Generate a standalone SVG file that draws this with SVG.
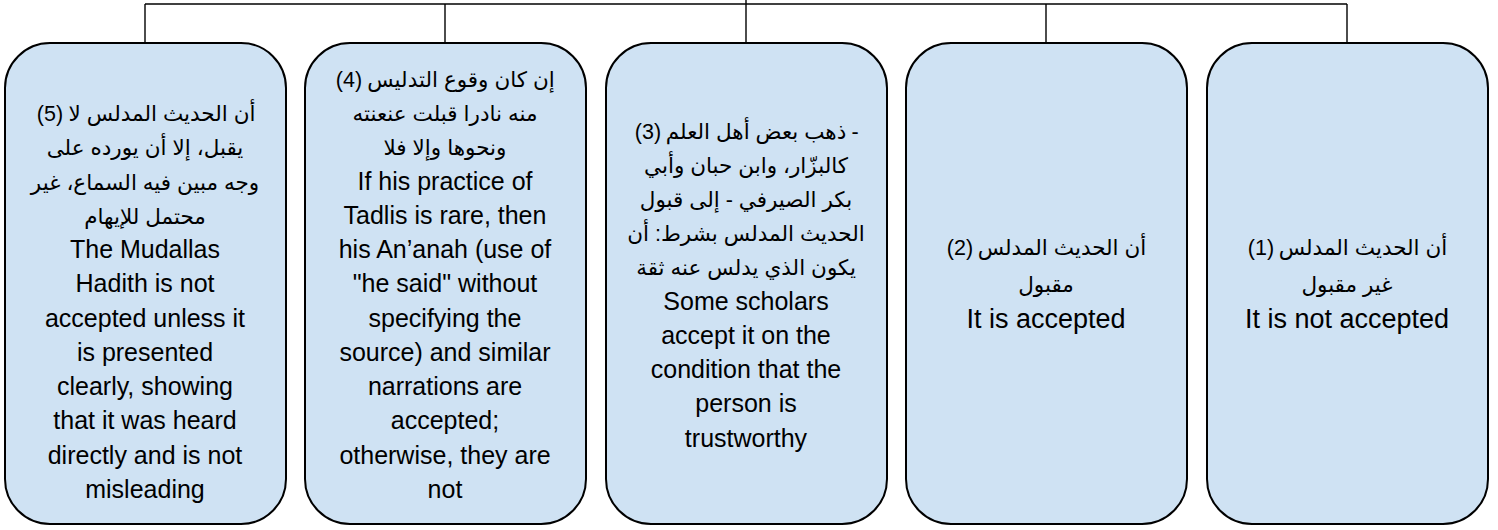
<svg xmlns="http://www.w3.org/2000/svg" width="1498" height="530" viewBox="0 0 1498 530">
<style>
.box{fill:#cfe2f3;stroke:#000;stroke-width:2}
.ln{stroke:#000;stroke-width:1.4;fill:none}
text{font-family:"Liberation Sans","DejaVu Sans",sans-serif;font-size:25px;fill:#000;text-anchor:middle}
text.ar{font-size:21.5px}
text.big{font-size:27px}
</style>
<rect width="1498" height="530" fill="#fff"/>
<g id="connectors">
<line class="ln" x1="746" y1="0" x2="746" y2="43"/>
<line class="ln" x1="145" y1="4" x2="1347" y2="4" stroke-width="2.2"/>
<line class="ln" x1="145" y1="4" x2="145" y2="43"/>
<line class="ln" x1="445" y1="4" x2="445" y2="43"/>
<line class="ln" x1="1046" y1="4" x2="1046" y2="43"/>
<line class="ln" x1="1347" y1="4" x2="1347" y2="43"/>
</g>
<g id="node5">
<rect class="box" x="5" y="43" width="281" height="481" rx="45" ry="45"/>
<text class="ar" x="50" y="121">(5)</text>
<text class="ar" x="162" y="121">أن الحديث المدلس لا</text>
<text class="ar" x="145" y="155">يقبل، إلا أن يورده على</text>
<text class="ar" x="145" y="189.5">وجه مبين فيه السماع، غير</text>
<text class="ar" x="145" y="224">محتمل للإيهام</text>
<text x="145" y="258">The Mudallas</text>
<text x="145" y="292">Hadith is not</text>
<text x="145" y="326.5">accepted unless it</text>
<text x="145" y="361">is presented</text>
<text x="145" y="395">clearly, showing</text>
<text x="145" y="429">that it was heard</text>
<text x="145" y="463.5">directly and is not</text>
<text x="145" y="498">misleading</text>
</g>
<g id="node4">
<rect class="box" x="305" y="43" width="281" height="481" rx="45" ry="45"/>
<text class="ar" x="349" y="87">(4)</text>
<text class="ar" x="461" y="87">إن كان وقوع التدليس</text>
<text class="ar" x="445" y="121">منه نادرا قبلت عنعنته</text>
<text class="ar" x="445" y="155">ونحوها وإلا فلا</text>
<text x="445" y="189.5">If his practice of</text>
<text x="445" y="224">Tadlis is rare, then</text>
<text x="445" y="258">his An’anah (use of</text>
<text x="445" y="292">"he said" without</text>
<text x="445" y="326.5">specifying the</text>
<text x="445" y="361">source) and similar</text>
<text x="445" y="395">narrations are</text>
<text x="445" y="429">accepted;</text>
<text x="445" y="463.5">otherwise, they are</text>
<text x="445" y="498">not</text>
</g>
<g id="node3">
<rect class="box" x="606" y="43" width="281" height="481" rx="45" ry="45"/>
<text class="ar" x="648" y="138.5">(3)</text>
<text class="ar" x="756" y="138.5">ذهب بعض أهل العلم</text>
<text class="ar" x="855" y="138.5">-</text>
<text class="ar" x="746" y="172.5">كالبزّار، وابن حبان وأبي</text>
<text class="ar" x="746" y="207">بكر الصيرفي - إلى قبول</text>
<text class="ar" x="746" y="241">الحديث المدلس بشرط: أن</text>
<text class="ar" x="746" y="275">يكون الذي يدلس عنه ثقة</text>
<text x="746" y="309.5">Some scholars</text>
<text x="746" y="344">accept it on the</text>
<text x="746" y="378">condition that the</text>
<text x="746" y="412">person is</text>
<text x="746" y="446.5">trustworthy</text>
</g>
<g id="node2">
<rect class="box" x="906" y="43" width="281" height="481" rx="45" ry="45"/>
<text class="ar" x="960" y="255">(2)</text>
<text class="ar" x="1062" y="255">أن الحديث المدلس</text>
<text class="ar" x="1046" y="291.5">مقبول</text>
<text class="big" x="1046" y="328">It is accepted</text>
</g>
<g id="node1">
<rect class="box" x="1207" y="43" width="281" height="481" rx="45" ry="45"/>
<text class="ar" x="1261" y="255">(1)</text>
<text class="ar" x="1363" y="255">أن الحديث المدلس</text>
<text class="ar" x="1347" y="291.5">غير مقبول</text>
<text class="big" x="1347" y="328">It is not accepted</text>
</g>
</svg>
